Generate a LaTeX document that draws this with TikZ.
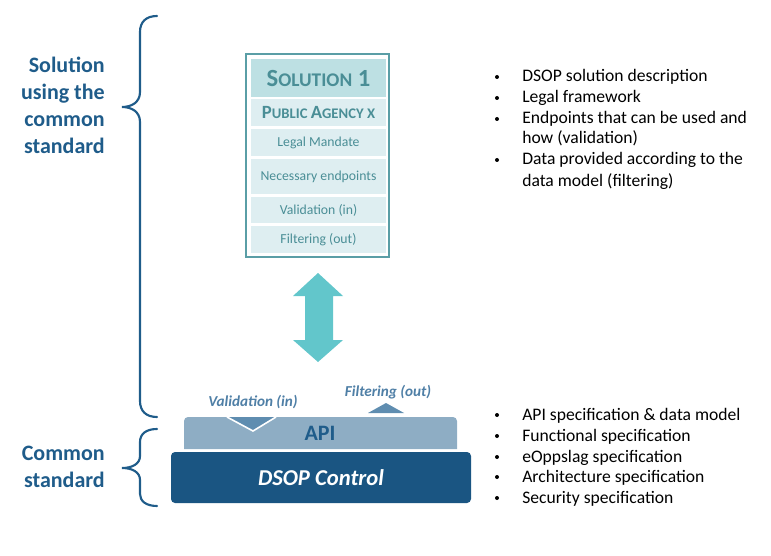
\documentclass[tikz,border=0pt]{standalone}
\usepackage{fontspec}
\setmainfont{Carlito}
\definecolor{dblue}{HTML}{1F5C8A}
\definecolor{solborder}{HTML}{5A9EA6}
\definecolor{headfill}{HTML}{BDE0E3}
\definecolor{cellfill}{HTML}{DEEEF1}
\definecolor{celltext}{HTML}{4A8E96}
\definecolor{arrowc}{HTML}{62C6CB}
\definecolor{apic}{HTML}{8EADC4}
\definecolor{tric}{HTML}{5F8DB0}
\definecolor{lblc}{HTML}{4F7FA6}
\definecolor{dsopc}{HTML}{1A5582}
\tikzset{
  cell/.style={fill=cellfill, text=celltext, inner sep=0pt, minimum width=101.25pt, font=\fontsize{10.3}{12}\selectfont},
  side/.style={text=dblue, font=\bfseries\fontsize{16.5}{20.25}\selectfont, align=right, anchor=east, inner sep=0pt},
  bullet/.style={anchor=base west, inner sep=0pt, font=\fontsize{13.2}{15}\selectfont},
  dot/.style={circle, fill=black, inner sep=0pt, minimum size=3pt},
  brace/.style={draw=dblue, line width=1.6pt, line cap=round},
  lbl/.style={text=lblc, font=\bfseries\itshape\fontsize{11.4}{13}\selectfont, inner sep=0pt}
}
\begin{document}
\begin{tikzpicture}[x=0.75pt,y=-0.75pt]
\useasboundingbox (0,0) rectangle (771,556);
% left braces
\draw[brace] (157,16) .. controls (146,16) and (140,22) .. (140,32) -- (140,92) .. controls (140,102) and (132,107) .. (122,107) .. controls (132,107) and (140,112) .. (140,122) -- (140,401) .. controls (140,411) and (146,417) .. (157,417);
\draw[brace] (157,429) .. controls (146,429) and (140,434) .. (140,442) -- (140,456) .. controls (140,464) and (132,468) .. (122,468) .. controls (132,468) and (140,472) .. (140,480) -- (140,494) .. controls (140,501) and (146,506) .. (157,506);
\node[side] (solside) at (105,105.5) {Solution\\using the\\common\\standard};
\node[side] (comside) at (105,466.5) {Common\\standard};
% solution box
\draw[solborder, line width=2pt] (246,54) rectangle (389,257);
\node[cell, fill=headfill, minimum height=28.5pt, font=\bfseries] (head) at (318.5,78) {{\fontsize{18.5}{20}\selectfont S}{\fontsize{14.5}{16}\selectfont OLUTION}{\fontsize{18.5}{20}\selectfont\ 1}};
\node[cell, minimum height=20.25pt, font=\bfseries] (agency) at (318.5,112.5) {{\fontsize{14}{15}\selectfont P}{\fontsize{11}{12}\selectfont UBLIC }{\fontsize{14}{15}\selectfont A}{\fontsize{11}{12}\selectfont GENCY X}};
\node[cell, minimum height=20.25pt] (legal) at (318.5,142.5) {Legal Mandate};
\node[cell, minimum height=26.25pt] (endp) at (318.5,176.5) {Necessary endpoints};
\node[cell, minimum height=19.5pt] (valid) at (318.5,210) {Validation (in)};
\node[cell, minimum height=20.25pt] (filt) at (318.5,239.5) {Filtering (out)};
% double arrow
\fill[arrowc] (318,273) -- (343,296) -- (333,296) -- (333,340) -- (343,340) -- (318,362) -- (293,340) -- (305,340) -- (305,296) -- (293,296) -- cycle;
% API bar
\fill[apic] (184,449) [rounded corners=3pt] -- (184,417) -- (457,417) [sharp corners] -- (457,449) -- cycle;
\node[text=dblue, font=\bfseries\fontsize{16.5}{18}\selectfont, inner sep=0pt] (api) at (320,433) {API};
\fill[tric] (227,417) -- (253,431) -- (276,417) -- cycle;
\draw[white, line width=1.2pt] (227,417) -- (253,431) -- (276,417);
\fill[tric] (368,413) -- (386,403) -- (404,413) -- cycle;
\node[lbl] (vlbl) at (253,402) {Validation (in)};
\node[lbl] (flbl) at (388,392) {Filtering (out)};
% DSOP control
\fill[dsopc, rounded corners=3pt] (171,452) rectangle (471,503);
\node[text=white, font=\bfseries\itshape\fontsize{17}{19}\selectfont, inner sep=0pt] (dsop) at (321,478) {DSOP Control};
% right bullets
\foreach \y/\t/\b [count=\i] in {77/DSOP solution description/1, 98/Legal framework/1, 119/Endpoints that can be used and/1, 139/how (validation)/0, 160/Data provided according to the/1, 181/data model (filtering)/0,
  415/API specification \& data model/1, 436/Functional specification/1, 457/eOppslag specification/1, 477/Architecture specification/1, 498/Security specification/1}{
  \node[bullet] (t\i) at (522,\y+5) {\t};
  \ifnum\b=1 \node[dot] (d\i) at (497,\y) {};\fi
}
\end{tikzpicture}
\end{document}
